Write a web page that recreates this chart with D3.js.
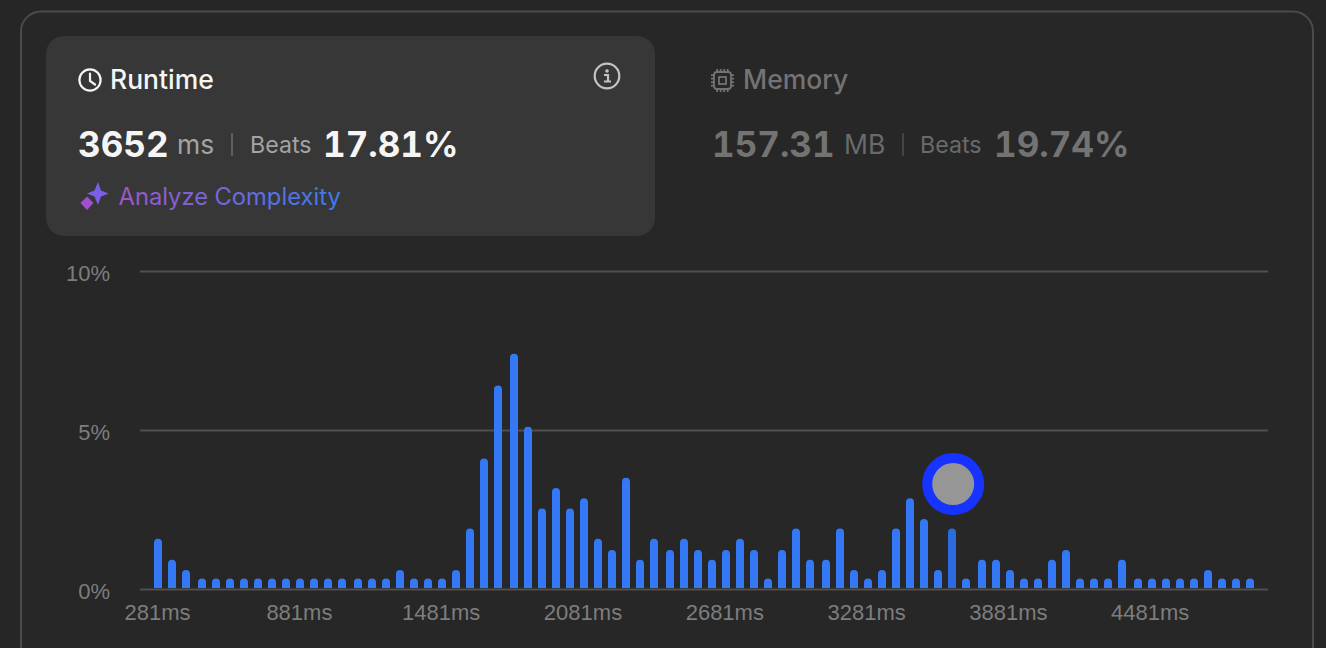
<!DOCTYPE html>
<html><head><meta charset="utf-8">
<script src="https://d3js.org/d3.v7.min.js"></script>
<style>html,body{margin:0;padding:0;background:#262626;overflow:hidden}svg{display:block}text{font-family:Inter,"Liberation Sans",sans-serif;font-variation-settings:"opsz" 14;font-feature-settings:"tnum" 1}</style>
</head><body><svg id="c" width="1326" height="648"></svg>
<script>
const categories=[281,341,401,461,521,581,641,701,761,821,881,941,1001,1061,1121,1181,1241,1301,1361,1421,1481,1541,1601,1661,1721,1781,1841,1901,1961,2021,2081,2141,2201,2261,2321,2381,2441,2501,2561,2621,2681,2741,2801,2861,2921,2981,3041,3101,3161,3221,3281,3341,3401,3461,3521,3581,3641,3701,3761,3821,3881,3941,4001,4061,4121,4181,4241,4301,4361,4421,4481,4541,4601,4661,4721,4781,4841,4901];
const values=[1.58,0.92,0.6,0.33,0.33,0.33,0.33,0.33,0.33,0.33,0.33,0.33,0.33,0.33,0.33,0.33,0.33,0.6,0.33,0.33,0.33,0.6,1.9,4.1,6.4,7.4,5.1,2.53,3.18,2.53,2.85,1.58,1.23,3.5,0.92,1.58,1.23,1.58,1.23,0.92,1.23,1.58,1.23,0.33,1.23,1.9,0.92,0.92,1.9,0.6,0.33,0.6,1.9,2.85,2.2,0.6,1.9,0.33,0.92,0.92,0.6,0.33,0.33,0.92,1.23,0.33,0.33,0.33,0.92,0.33,0.33,0.33,0.33,0.33,0.6,0.33,0.33,0.33];
const xTicks=[281,881,1481,2081,2681,3281,3881,4481];
const yTicks=[0,5,10];
const selectedBin=3641;
const markerValue=3.3;
const runtime={title:"Runtime",value:"3652",unit:"ms",beats:"Beats",pct:"17.81%"};
const memory={title:"Memory",value:"157.31",unit:"MB",beats:"Beats",pct:"19.74%"};

const svg=d3.select("#c");
const defs=svg.append("defs");
const grad=defs.append("linearGradient").attr("id","g").attr("gradientUnits","userSpaceOnUse").attr("x1",80).attr("x2",340).attr("y1",0).attr("y2",0);
grad.append("stop").attr("offset",0).attr("stop-color","#b050c0");
grad.append("stop").attr("offset",1).attr("stop-color","#3a7cf2");

svg.append("rect").attr("x",21).attr("y",11.5).attr("width",1292).attr("height",680).attr("rx",20).attr("fill","#272727").attr("stroke","#4b4b4b").attr("stroke-width",2);
svg.append("rect").attr("x",46).attr("y",36).attr("width",609).attr("height",200).attr("rx",18).attr("fill","#373737");

function t(x,y,s,size,weight,fill,anchor){return svg.append("text").attr("x",x).attr("y",y).text(s).attr("font-size",size).attr("font-weight",weight||400).attr("fill",fill).attr("text-anchor",anchor||"start");}

// runtime card
const ck=svg.append("g").attr("fill","none").attr("stroke","#f5f5f5").attr("stroke-width",2.2).attr("stroke-linecap","round");
ck.append("circle").attr("cx",90).attr("cy",80).attr("r",10.6);
ck.append("path").attr("d","M90 73.5V81L95 84.5");
t(110,89,runtime.title,26.5,500,"#f5f5f5");
t(78,157,runtime.value,35,700,"#f5f5f5");
t(177,154,runtime.unit,26.5,400,"#a3a3a3");
svg.append("rect").attr("x",231).attr("y",133).attr("width",2).attr("height",23).attr("fill","#5e5e5e");
t(250,153,runtime.beats,23.2,400,"#a3a3a3");
t(323,157,runtime.pct,35,700,"#f5f5f5");
svg.append("path").attr("d","M98 182L101 190.5L108.5 193.500L101 196.500L98 205L94.500 196.500L87 193.500L94.500 190.500Z").attr("fill","#7a5ee8");
svg.append("path").attr("d","M87 196.500L93.500 203L87 210L80.500 203Z").attr("fill","#a050cc");
t(118.500,205,"Analyze Complexity",23.750,400,"url(#g)");
const inf=svg.append("g");
inf.append("circle").attr("cx",607).attr("cy",76).attr("r",12.3).attr("fill","none").attr("stroke","#c4c4c4").attr("stroke-width",2.2);
inf.append("circle").attr("cx",607).attr("cy",71).attr("r",1.8).attr("fill","#c4c4c4");
inf.append("path").attr("d","M604 75H608V81.500M604 81.500H611").attr("fill","none").attr("stroke","#c4c4c4").attr("stroke-width",2.2);

// memory
const chip=svg.append("g").attr("fill","none").attr("stroke","#737373").attr("stroke-width",1.8);
chip.append("rect").attr("x",714).attr("y",72).attr("width",17).attr("height",17).attr("rx",3);
chip.append("rect").attr("x",719).attr("y",77).attr("width",7).attr("height",7);
chip.append("path").attr("d",d3.range(4).map(i=>{const p=75.2+i*3.5;const q=717.2+i*3.5;return `M711 ${p}H714M731 ${p}H734M${q} 69V72M${q} 89V92`;}).join(""));
t(743,89,memory.title,26.5,500,"#737373");
t(712,157,memory.value,35,700,"#737373");
t(844,154,memory.unit,26.5,400,"#6a6a6a");
svg.append("rect").attr("x",902).attr("y",133).attr("width",2).attr("height",23).attr("fill","#444");
t(920,153,memory.beats,23.2,400,"#6a6a6a");
t(994,157,memory.pct,35,700,"#737373");

// chart
const x=d3.scaleBand().domain(categories).range([151.51,1257.55]).padding(0);
const y=d3.scaleLinear().domain([0,10]).range([589,271]);
const cx=d=>2*Math.round((x(d)+x.bandwidth()/2)/2);

const yAxis=d3.axisLeft(y).tickValues(yTicks).tickSize(-1128).tickPadding(0).tickFormat(d=>d+"%");
const gy=svg.append("g").attr("transform","translate(140,0)").call(yAxis);
gy.select(".domain").remove();
gy.selectAll("line").attr("stroke","#4f4f4f").attr("stroke-width",2);
gy.selectAll("text").attr("x",-30).attr("y",2).attr("dy","0.32em").attr("fill","#7d7d7d").style("font-family","'Liberation Sans',sans-serif").attr("font-size",22);

const R=4,W=8;
svg.append("g").selectAll("path").data(categories).join("path")
 .attr("fill",d=>d===selectedBin?"#2c6ae0":"#3478f6")
 .attr("d",(d,i)=>{const c=cx(d),b=y(0)-1,tp=y(values[i]);
   return `M${c-W/2} ${b}V${tp+R}A${R} ${R} 0 0 1 ${c+W/2} ${tp+R}V${b}Z`;});

const xAxis=d3.axisBottom(x).tickValues(xTicks).tickSize(0).tickPadding(0).tickFormat(d=>d+"ms");
const gx=svg.append("g").attr("transform","translate(-1,589)").call(xAxis);
gx.select(".domain").remove();
gx.selectAll("text").attr("y",31).attr("dy",0).attr("fill","#7d7d7d").style("font-family","'Liberation Sans',sans-serif").attr("font-size",22);

svg.append("circle").attr("cx",x(selectedBin)+x.bandwidth()/2+0.5).attr("cy",y(markerValue)).attr("r",26).attr("fill","#969696").attr("stroke","#1733ff").attr("stroke-width",10);
</script></body></html>
